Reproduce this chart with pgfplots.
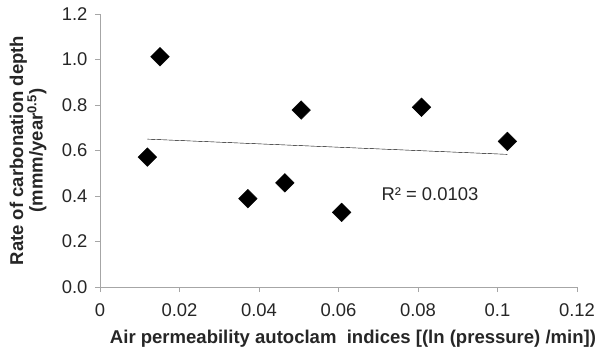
\documentclass[border=0pt]{standalone}
\usepackage{pgfplots}
\pgfplotsset{compat=1.18}
\usepackage{fontspec}
\setmainfont{Liberation Sans}
\begin{document}
\begin{tikzpicture}
\begin{axis}[
  scale only axis,
  width=477bp, height=273bp,
  xmin=0, xmax=0.12, ymin=0, ymax=1.2,
  axis x line*=bottom, axis y line*=left,
  axis line style={gray!70, -},
  xtick={0,0.02,0.04,0.06,0.08,0.1,0.12},
  xticklabels={0,0.02,0.04,0.06,0.08,0.1,0.12},
  ytick={0,0.2,...,1.2},
  yticklabel style={xshift=-4bp, /pgf/number format/.cd,fixed,fixed zerofill,precision=1},
  /pgf/number format/assume math mode=true,
  tick align=outside,
  major tick length=5bp,
  tick style={gray!70, thin},
  ticklabel style={font=\fontsize{18.5}{20}\selectfont, text=black!85},
  xticklabel style={anchor=north, yshift=-8bp},
  clip=false,
]
\addplot[only marks, mark=square*, mark size=6.6bp, mark options={rotate=45, fill=black, draw=black}]
coordinates {
(0.0119,0.571) (0.0151,1.012) (0.0372,0.388) (0.0465,0.458)
(0.0506,0.778) (0.0608,0.328) (0.0809,0.790) (0.1025,0.640)
};
\addplot[black, thin, no marks] coordinates {(0.0119,0.650) (0.1025,0.583)};
\node[font=\fontsize{18.5}{20}\selectfont, text=black!85] at (axis cs:0.083,0.409) {R² = 0.0103};
\node[font=\bfseries\fontsize{18.6}{20}\selectfont, text=black!85] at ([xshift=14.5bp,yshift=-52bp]rel axis cs:0.5,0) {Air permeability autoclam\ \ indices [(ln (pressure) /min])};
\node[font=\bfseries\fontsize{18.6}{19.5}\selectfont, text=black!85, rotate=90, align=center] at ([xshift=-72bp]rel axis cs:0,0.5) {Rate of carbonation depth\\(mmm/year\textsuperscript{0.5})};
\coordinate (O) at (rel axis cs:0,0);
\coordinate (T) at (rel axis cs:1,1);
\end{axis}
\pgfresetboundingbox
\useasboundingbox ([xshift=-100bp,yshift=-65bp]O) rectangle ([xshift=21bp,yshift=14bp]T);
\end{tikzpicture}
\end{document}
